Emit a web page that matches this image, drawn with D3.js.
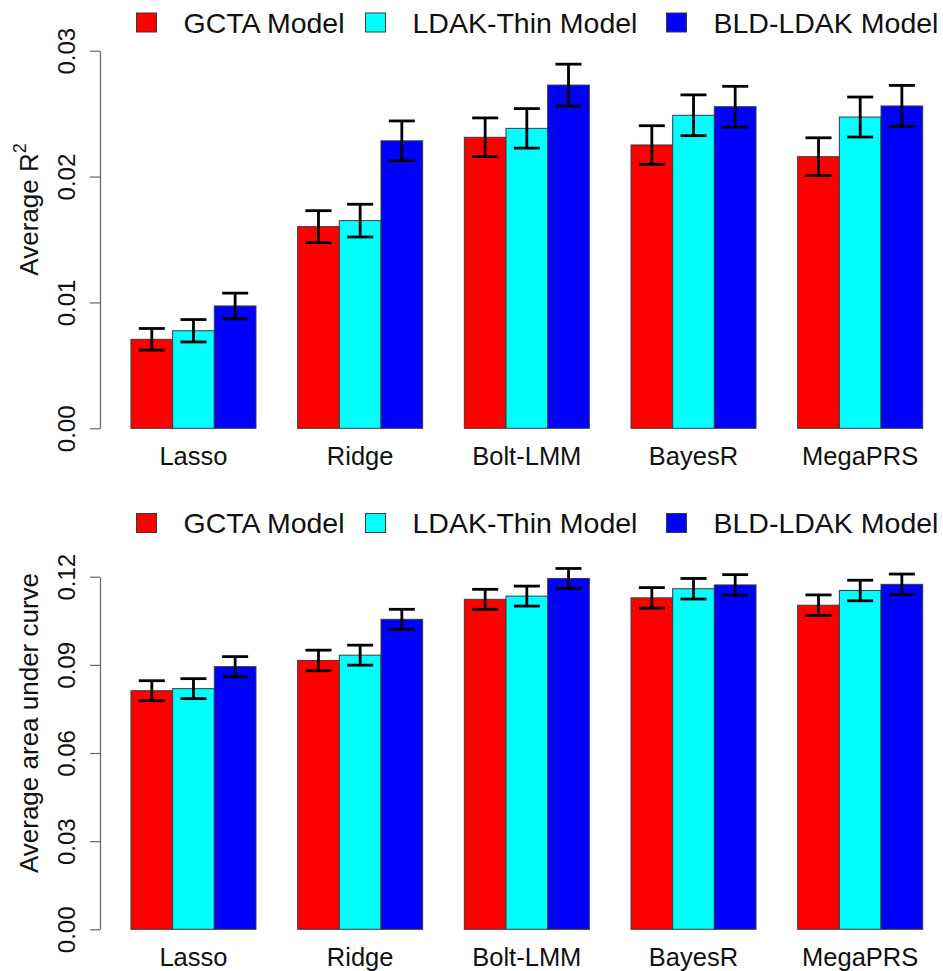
<!DOCTYPE html>
<html>
<head>
<meta charset="utf-8">
<script src="https://cdn.jsdelivr.net/npm/d3@7"></script>
<style>
  html, body { margin: 0; padding: 0; background: #fff; }
  svg { display: block; font-family: "Liberation Sans", Arial, Helvetica, sans-serif; }
</style>
</head>
<body>
<svg id="chart" width="943" height="971"></svg>
<script>
// Methods (x categories) and prior models (series)
const methods = ["Lasso", "Ridge", "Bolt-LMM", "BayesR", "MegaPRS"];
const models = ["GCTA Model", "LDAK-Thin Model", "BLD-LDAK Model"];
const modelColors = ["#ff0000", "#00ffff", "#0000ff"];

// Average R^2 and standard errors
const r2Gcta     = [0.00707, 0.01602, 0.02312, 0.02251, 0.02158];
const r2LdakThin = [0.00775, 0.01650, 0.02383, 0.02487, 0.02473];
const r2BldLdak  = [0.00972, 0.02284, 0.02727, 0.02555, 0.02561];
const r2GctaSe     = [0.00086, 0.00127, 0.00154, 0.00153, 0.00150];
const r2LdakThinSe = [0.00089, 0.00130, 0.00157, 0.00162, 0.00159];
const r2BldLdakSe  = [0.00102, 0.00158, 0.00166, 0.00162, 0.00163];
const r2Ticks = [0.00, 0.01, 0.02, 0.03];
const r2TickLabels = ["0.00", "0.01", "0.02", "0.03"];

// Average area under curve and standard errors
const aucGcta     = [0.0812, 0.0915, 0.1123, 0.1128, 0.1103];
const aucLdakThin = [0.0819, 0.0933, 0.1134, 0.1159, 0.1153];
const aucBldLdak  = [0.0894, 0.1055, 0.1194, 0.1172, 0.1174];
const aucGctaSe     = [0.0034, 0.0035, 0.0034, 0.0035, 0.0035];
const aucLdakThinSe = [0.0034, 0.0034, 0.0034, 0.0035, 0.0035];
const aucBldLdakSe  = [0.0034, 0.0034, 0.0034, 0.0035, 0.0035];
const aucTicks = [0.00, 0.03, 0.06, 0.09, 0.12];
const aucTickLabels = ["0.00", "0.03", "0.06", "0.09", "0.12"];

const svg = d3.select("#chart");

// Bars laid out in bar-width units: one unit gap before each group of three.
const x = d3.scaleLinear().domain([0, 20]).range([89.3, 922.7]);

function panel(opts) {
  const g = svg.append("g");
  const y = d3.scaleLinear().domain([0, opts.yMax]).range([opts.y0, opts.y1]);
  const series = [
    { vals: opts.values[0], se: opts.errors[0] },
    { vals: opts.values[1], se: opts.errors[1] },
    { vals: opts.values[2], se: opts.errors[2] }
  ];
  const rows = [];
  methods.forEach((m, i) => {
    series.forEach((s, j) => {
      rows.push({ i, j, v: s.vals[i], se: s.se[i] });
    });
  });

  // bars
  g.selectAll("rect.bar").data(rows).join("rect")
    .attr("class", "bar")
    .attr("x", d => x(1 + 4 * d.i + d.j))
    .attr("width", d => x(2 + 4 * d.i + d.j) - x(1 + 4 * d.i + d.j))
    .attr("y", d => y(d.v))
    .attr("height", d => y(0) - y(d.v))
    .attr("fill", d => modelColors[d.j])
    .attr("stroke", "#3a3a3a")
    .attr("stroke-width", 1);

  // error bars
  const eb = g.selectAll("g.err").data(rows).join("g").attr("class", "err")
    .attr("stroke", "#000").attr("stroke-width", 2.8).attr("fill", "none");
  const cx = d => x(1.5 + 4 * d.i + d.j);
  const cap = 13;
  eb.append("line")
    .attr("x1", cx).attr("x2", cx)
    .attr("y1", d => y(d.v + d.se)).attr("y2", d => y(d.v - d.se));
  eb.append("line")
    .attr("x1", d => cx(d) - cap).attr("x2", d => cx(d) + cap)
    .attr("y1", d => y(d.v + d.se)).attr("y2", d => y(d.v + d.se));
  eb.append("line")
    .attr("x1", d => cx(d) - cap).attr("x2", d => cx(d) + cap)
    .attr("y1", d => y(d.v - d.se)).attr("y2", d => y(d.v - d.se));

  // y axis
  const yAxis = d3.axisLeft(y).tickValues(opts.ticks)
    .tickFormat((d, k) => opts.tickLabels[k]).tickSize(10).tickSizeOuter(0);
  const ax = g.append("g").attr("transform", "translate(100,0)").call(yAxis);
  ax.select(".domain").attr("stroke", "#666").attr("stroke-width", 1.2);
  ax.selectAll(".tick line").attr("stroke", "#666").attr("stroke-width", 1.2);
  ax.selectAll(".tick text")
    .attr("font-size", 24).attr("fill", "#111")
    .attr("x", 0).attr("dy", 0)
    .attr("text-anchor", "middle")
    .attr("transform", "translate(-25,0) rotate(-90)")
    .attr("font-family", "Liberation Sans, Arial, sans-serif");

  // category labels
  g.selectAll("text.cat").data(methods).join("text")
    .attr("class", "cat")
    .attr("x", (d, i) => x(2.5 + 4 * i))
    .attr("y", opts.y0 + 37)
    .attr("text-anchor", "middle")
    .attr("font-size", 25.5)
    .attr("fill", "#111")
    .text(d => d);

  // y label
  const yl = g.append("text")
    .attr("transform", `translate(38,${(opts.y0 + opts.y1) / 2 - 30}) rotate(-90)`)
    .attr("text-anchor", "middle")
    .attr("font-size", 26)
    .attr("fill", "#111");
  yl.append("tspan").text(opts.yLabel);
  if (opts.sup) {
    yl.append("tspan").attr("font-size", 18).attr("dy", -12).text(opts.sup);
  }

  // legend
  const legX = [146.5, 375.5, 676.5];
  const lg = g.selectAll("g.leg").data(models).join("g").attr("class", "leg")
    .attr("transform", (d, i) => `translate(${legX[i]},${opts.legY})`);
  lg.append("rect")
    .attr("x", -10).attr("y", -9.5).attr("width", 20).attr("height", 19)
    .attr("fill", (d, i) => modelColors[i])
    .attr("stroke", "#3a3a3a").attr("stroke-width", 1);
  lg.append("text")
    .attr("x", 37).attr("y", 10)
    .attr("font-size", 28.5)
    .attr("fill", "#111")
    .text(d => d);
}

panel({
  y0: 428.3, y1: 50.7, yMax: 0.03,
  values: [r2Gcta, r2LdakThin, r2BldLdak],
  errors: [r2GctaSe, r2LdakThinSe, r2BldLdakSe],
  ticks: r2Ticks, tickLabels: r2TickLabels,
  yLabel: "Average R", sup: "2",
  legY: 22.5
});

panel({
  y0: 929.3, y1: 576.7, yMax: 0.12,
  values: [aucGcta, aucLdakThin, aucBldLdak],
  errors: [aucGctaSe, aucLdakThinSe, aucBldLdakSe],
  ticks: aucTicks, tickLabels: aucTickLabels,
  yLabel: "Average area under curve", sup: null,
  legY: 523
});
</script>
</body>
</html>
